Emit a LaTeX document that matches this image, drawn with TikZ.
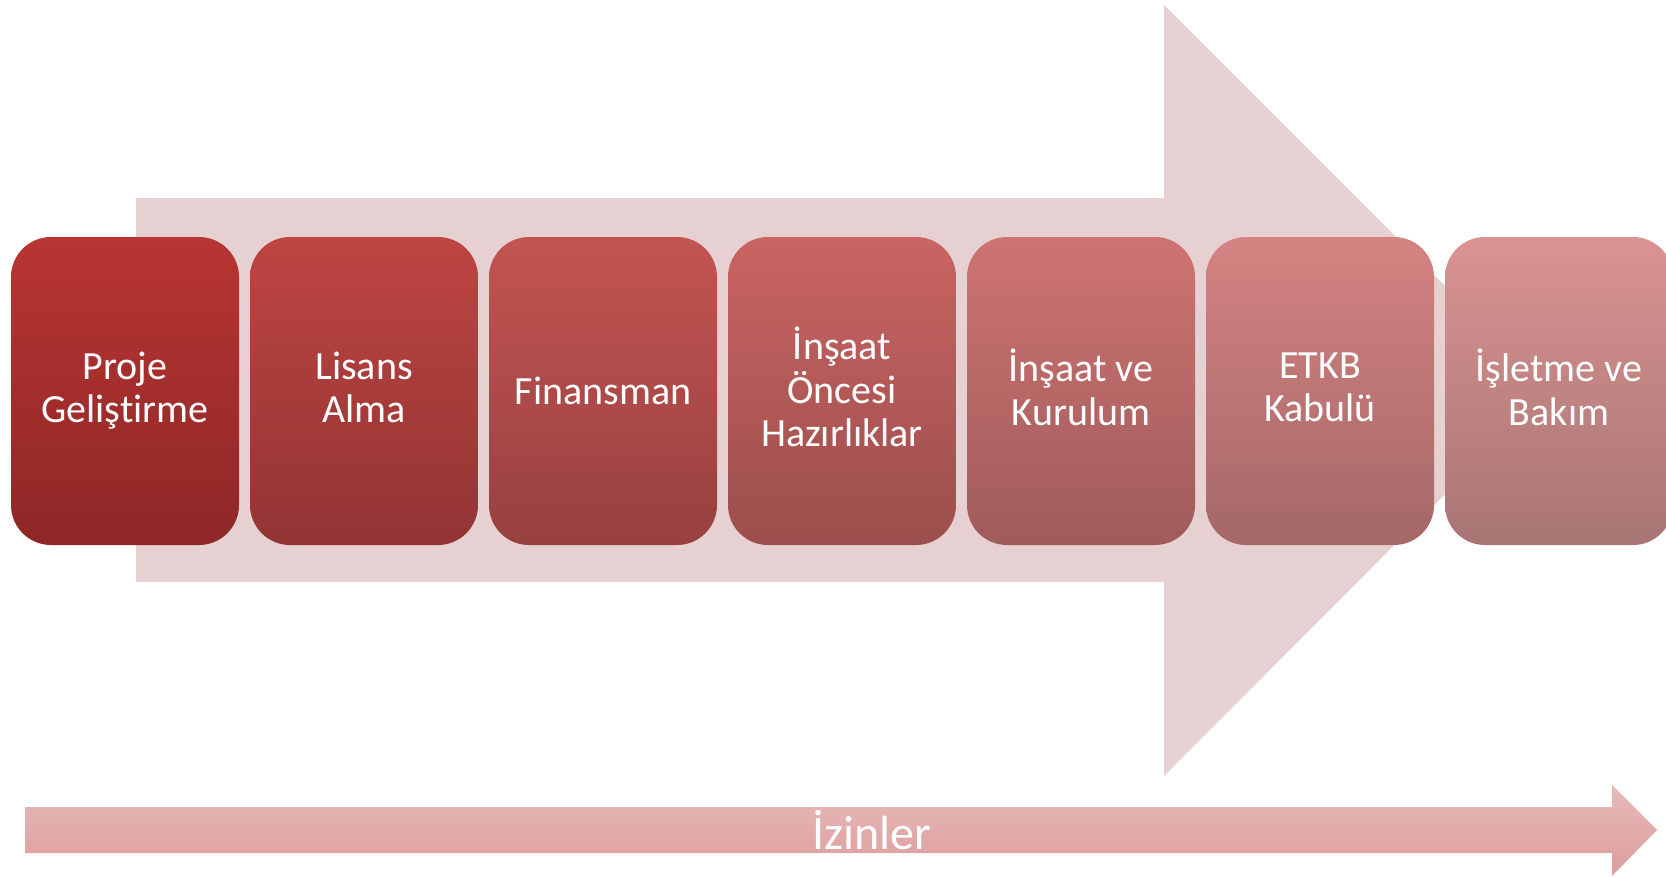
\documentclass[tikz,border=0pt]{standalone}
\usepackage{fontspec}
\setmainfont{Carlito}[Ligatures=NoCommon]
\newcommand\stagestrut{\rule[-8pt]{0pt}{43.5pt}}
\definecolor{bgarrow}{RGB}{231,208,209}
\definecolor{t1}{RGB}{184,53,50}\definecolor{u1}{RGB}{142,39,39}
\definecolor{t2}{RGB}{190,69,66}\definecolor{u2}{RGB}{146,52,52}
\definecolor{t3}{RGB}{195,84,82}\definecolor{u3}{RGB}{151,65,64}
\definecolor{t4}{RGB}{201,100,98}\definecolor{u4}{RGB}{155,78,77}
\definecolor{t5}{RGB}{206,116,114}\definecolor{u5}{RGB}{159,91,90}
\definecolor{t6}{RGB}{212,131,130}\definecolor{u6}{RGB}{164,104,103}
\definecolor{t7}{RGB}{217,147,146}\definecolor{u7}{RGB}{168,117,116}
\definecolor{izintop}{RGB}{232,186,186}
\definecolor{izinbot}{RGB}{220,156,156}
\tikzset{
  stage/.style={rounded corners=40pt, minimum width=228pt, minimum height=308pt,
    inner sep=0pt, align=center, text=white, font=\fontsize{40}{43.5}\selectfont,
    execute at begin node={\stagestrut}, execute at end node={\stagestrut}},
  bigarrow/.style={fill=bgarrow},
  izinarrow/.style={top color=izintop, bottom color=izinbot},
  izintext/.style={text=white, font=\fontsize{48}{56}\selectfont, inner sep=0pt, anchor=base}
}
\begin{document}
\begin{tikzpicture}[x=1pt,y=1pt]
\useasboundingbox (0,0) rectangle (1666,-876);
\clip (0,0) rectangle (1666,-876);
\fill[bigarrow] (136,-198) -- (1164,-198) -- (1164,-5) -- (1549,-390) -- (1164,-776) -- (1164,-582) -- (136,-582) -- cycle;
\node[stage, top color=t1, bottom color=u1] (b1) at (125,-391) {Proje\\Geliştirme};
\node[stage, top color=t2, bottom color=u2] (b2) at (364,-391) {Lisans\\Alma};
\node[stage, top color=t3, bottom color=u3] (b3) at (603,-391) {Finansman};
\node[stage, top color=t4, bottom color=u4] (b4) at (842,-391) {İnşaat\\Öncesi\\Hazırlıklar};
\node[stage, top color=t5, bottom color=u5] (b5) at (1081,-391) {İnşaat ve\\Kurulum};
\node[stage, top color=t6, bottom color=u6] (b6) at (1320,-391) {ETKB\\Kabulü};
\node[stage, top color=t7, bottom color=u7] (b7) at (1559,-391) {İşletme ve\\Bakım};
\shade[izinarrow] (25,-807) -- (1612,-807) -- (1612,-785) -- (1657,-830) -- (1612,-876) -- (1612,-853) -- (25,-853) -- cycle;
\node[izintext] (izin) at (872,-849) {İzinler};
\end{tikzpicture}
\end{document}
